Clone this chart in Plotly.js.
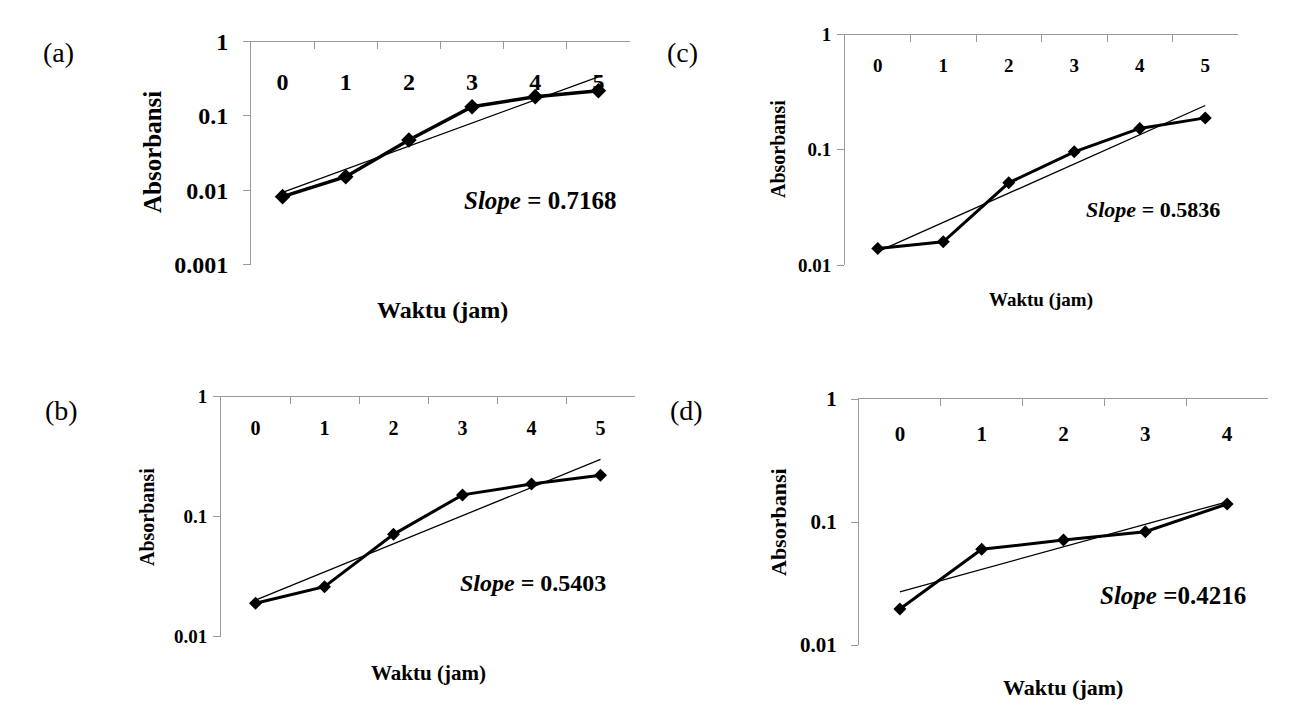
<!DOCTYPE html>
<html>
<head>
<meta charset="utf-8">
<script src="https://cdn.plot.ly/plotly-3.0.1.min.js"></script>
<style>
  html, body { margin: 0; padding: 0; background: #fff; }
  #chart { width: 1299px; height: 719px; }
</style>
</head>
<body>
<div id="chart"></div>
<script>
// Absorbance readings (log scale) against time in hours, four cultures
const hoursA = [0, 1, 2, 3, 4, 5];
const absorbA = [0.0082, 0.0152, 0.0475, 0.133, 0.182, 0.219];
const slopeA = 0.7168;

const hoursB = [0, 1, 2, 3, 4, 5];
const absorbB = [0.019, 0.0261, 0.0713, 0.152, 0.187, 0.222];
const slopeB = 0.5403;

const hoursC = [0, 1, 2, 3, 4, 5];
const absorbC = [0.0139, 0.0159, 0.0516, 0.096, 0.153, 0.189];
const slopeC = 0.5836;

const hoursD = [0, 1, 2, 3, 4];
const absorbD = [0.0196, 0.060, 0.0714, 0.0834, 0.140];
const slopeD = 0.4216;

const yTickVals = [0.001, 0.01, 0.1, 1];
const yTickText = ['0.001', '0.01', '0.1', '1'];
const xTitle = 'Waktu (jam)';
const yTitle = 'Absorbansi';

const W = 1299, H = 719;
const FONT = '"Liberation Serif", "Times New Roman", Times, serif';
const AXIS_GREY = '#9a9a9a';
const fx = p => p / W;
const fy = p => 1 - p / H;

// Exponential trend y = A * exp(k * t), k taken from the stated slope,
// A fitted by least squares on ln(y).
function expTrend(t, y, k) {
  const n = t.length;
  const mt = t.reduce((s, v) => s + v, 0) / n;
  const ml = y.reduce((s, v) => s + Math.log(v), 0) / n;
  const lnA = ml - k * mt;
  return t.map(v => Math.exp(lnA + k * v));
}

const panels = [
  { tag: '(a)', t: hoursA, y: absorbA, k: slopeA, slopeStr: '= 0.7168',
    box: [251, 630, 41.7, 264.5], yLow: -3, catLine: 65,
    catSize: 24, ySize: 24, yOff: 10,
    yTitleSize: 25, xTitleSize: 24, slopeSize: 25,
    tagPos: [58, 53], yTitlePos: [153, 152], xTitlePos: [442, 310], slopePos: [540, 200],
    lineW: 3.5, mSize: 12 },
  { tag: '(c)', t: hoursC, y: absorbC, k: slopeC, slopeStr: '= 0.5836',
    box: [845, 1238, 34.5, 265], yLow: -2, catLine: 52,
    catSize: 19, ySize: 19, yOff: 2,
    yTitleSize: 20, xTitleSize: 19, slopeSize: 22,
    tagPos: [683, 53], yTitlePos: [778, 149], xTitlePos: [1041, 300], slopePos: [1153, 209],
    lineW: 3, mSize: 10 },
  { tag: '(b)', t: hoursB, y: absorbB, k: slopeB, slopeStr: '= 0.5403',
    box: [221, 635, 396.7, 636.7], yLow: -2, catLine: 414,
    catSize: 20, ySize: 19, yOff: 2,
    yTitleSize: 20, xTitleSize: 21, slopeSize: 24,
    tagPos: [61, 410], yTitlePos: [147, 517], xTitlePos: [428, 673], slopePos: [533, 583],
    lineW: 3, mSize: 10 },
  { tag: '(d)', t: hoursD, y: absorbD, k: slopeD, slopeStr: '=0.4216',
    box: [859, 1268, 399, 645], yLow: -2, catLine: 419,
    catSize: 21, ySize: 21, yOff: 10,
    yTitleSize: 22, xTitleSize: 22, slopeSize: 25,
    tagPos: [686, 410], yTitlePos: [778, 522], xTitlePos: [1063, 687], slopePos: [1173, 595],
    lineW: 3, mSize: 10 }
];

const data = [];
const layout = {
  width: W, height: H,
  margin: { l: 0, r: 0, t: 0, b: 0 },
  paper_bgcolor: '#ffffff',
  plot_bgcolor: 'rgba(0,0,0,0)',
  showlegend: false,
  font: { family: FONT, color: '#000' },
  annotations: []
};

panels.forEach((p, i) => {
  const n = p.t.length;
  const xId = i + 1;            // axis carrying the data and the top line
  const lblId = i + 5;          // overlaid axis carrying the hour labels
  const sfx = xId === 1 ? '' : String(xId);
  const xa = 'x' + sfx, ya = 'y' + sfx, xl = 'x' + lblId;
  const trend = expTrend(p.t, p.y, p.k);

  data.push({
    type: 'scatter', mode: 'lines', x: p.t, y: trend,
    xaxis: xa, yaxis: ya, cliponaxis: false,
    line: { color: '#000', width: 1.3 }, hoverinfo: 'skip'
  });
  data.push({
    type: 'scatter', mode: 'lines+markers', x: p.t, y: p.y,
    xaxis: xa, yaxis: ya, cliponaxis: false,
    line: { color: '#000', width: p.lineW },
    marker: { symbol: 'diamond', size: p.mSize, color: '#000' }
  });
  // transparent copy that registers the hour-label axis
  data.push({
    type: 'scatter', mode: 'markers', x: p.t, y: p.y,
    xaxis: xl, yaxis: ya, hoverinfo: 'skip',
    marker: { size: 1, opacity: 0 }
  });

  const [x0, x1, yTop, yBot] = p.box;
  const xRange = [p.t[0] - 0.5, p.t[n - 1] + 0.5];
  // category boundaries for the tick marks on the top line
  const bounds = p.t.map(v => v - 0.5).concat([p.t[n - 1] + 0.5]);

  layout['xaxis' + sfx] = {
    type: 'linear', domain: [fx(x0), fx(x1)], anchor: ya, side: 'top',
    range: xRange, tickmode: 'array', tickvals: bounds, showticklabels: false,
    showline: true, linecolor: AXIS_GREY, linewidth: 1,
    ticks: 'inside', ticklen: 7, tickcolor: AXIS_GREY, tickwidth: 1,
    showgrid: false, zeroline: false, fixedrange: true
  };
  layout['xaxis' + lblId] = {
    type: 'linear', domain: [fx(x0), fx(x1)], anchor: 'free', overlaying: xa,
    position: fy(p.catLine), side: 'bottom',
    range: xRange, tickmode: 'array', tickvals: p.t, ticktext: p.t.map(String),
    showline: false, ticks: '',
    tickfont: { family: FONT, size: p.catSize, color: '#000', weight: 'bold' },
    showgrid: false, zeroline: false, fixedrange: true
  };
  layout['yaxis' + sfx] = {
    type: 'log', domain: [fy(yBot), fy(yTop)], anchor: xa,
    range: [p.yLow, 0],
    tickmode: 'array', tickvals: yTickVals, ticktext: yTickText,
    showline: true, linecolor: AXIS_GREY, linewidth: 1,
    ticks: 'outside', ticklen: 7, tickcolor: AXIS_GREY, tickwidth: 1,
    ticklabelstandoff: p.yOff,
    tickfont: { family: FONT, size: p.ySize, color: '#000', weight: 'bold' },
    showgrid: false, zeroline: false, fixedrange: true
  };

  layout.annotations.push(
    { xref: 'paper', yref: 'paper', x: fx(p.tagPos[0]), y: fy(p.tagPos[1]),
      text: p.tag, showarrow: false, xanchor: 'center', yanchor: 'middle',
      font: { family: FONT, size: 28, color: '#000' } },
    { xref: 'paper', yref: 'paper', x: fx(p.yTitlePos[0]), y: fy(p.yTitlePos[1]),
      text: '<b>' + yTitle + '</b>', textangle: -90, showarrow: false,
      xanchor: 'center', yanchor: 'middle',
      font: { family: FONT, size: p.yTitleSize, color: '#000' } },
    { xref: 'paper', yref: 'paper', x: fx(p.xTitlePos[0]), y: fy(p.xTitlePos[1]),
      text: '<b>' + xTitle + '</b>', showarrow: false,
      xanchor: 'center', yanchor: 'middle',
      font: { family: FONT, size: p.xTitleSize, color: '#000' } },
    { xref: 'paper', yref: 'paper', x: fx(p.slopePos[0]), y: fy(p.slopePos[1]),
      text: '<b><i>Slope</i> ' + p.slopeStr + '</b>', showarrow: false,
      xanchor: 'center', yanchor: 'middle',
      font: { family: FONT, size: p.slopeSize, color: '#000' } }
  );
});

Plotly.newPlot('chart', data, layout, { staticPlot: true, displayModeBar: false });
</script>
</body>
</html>
